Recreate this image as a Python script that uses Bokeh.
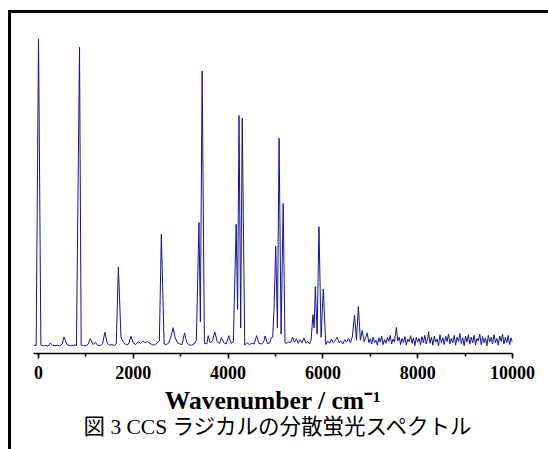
from bokeh.plotting import figure
from bokeh.models import Range1d, SingleIntervalTicker, Title
from bokeh.embed import file_html
from bokeh.resources import INLINE

# ---- data ----
# sharp emission lines: position (cm-1) and relative intensity
peak_cm = [0, 865, 1685, 2591, 3385, 3452, 4170, 4230, 4298, 4970, 5005, 5075,
           5162, 5790, 5840, 5917, 6008, 6667, 6748]
peak_int = [1.0, 0.973, 0.258, 0.365, 0.403, 0.896, 0.397, 0.751, 0.743, 0.125,
            0.326, 0.677, 0.465, 0.103, 0.195, 0.389, 0.187, 0.102, 0.130]

# baseline / weak bands / noise trace between the lines
base_cm = [-100, -50, 50, 100, 150, 200, 250, 300, 350, 400, 450, 500, 537, 600,
           650, 700, 750, 800, 900, 950, 1000, 1050, 1090, 1150, 1200, 1250, 1300,
           1350, 1400, 1450, 1500, 1550, 1600, 1640, 1740, 1800, 1850, 1900, 1950,
           2000, 2050, 2100, 2150, 2200, 2250, 2300, 2350, 2400, 2450, 2500, 2550,
           2650, 2700, 2750, 2800, 2840, 2880, 2930, 2980, 3030, 3080, 3130, 3180,
           3230, 3280, 3330, 3415, 3500, 3550, 3580, 3620, 3670, 3720, 3770, 3820,
           3860, 3910, 3960, 4015, 4060, 4110, 4200, 4265, 4350, 4400, 4450, 4500,
           4550, 4600, 4650, 4700, 4750, 4780, 4830, 4880, 4910, 4940, 5040, 5118,
           5200, 5240, 5270, 5320, 5360, 5400, 5440, 5480, 5520, 5560, 5600, 5640,
           5680, 5720, 5750, 5815, 5878, 5962, 6060, 6100, 6140, 6180, 6220, 6260,
           6300, 6340, 6380, 6420, 6460, 6500, 6540, 6580, 6620, 6708, 6790, 6830,
           6870, 6900, 6935, 6970,
           7000, 7030, 7060, 7090, 7120, 7150, 7180, 7210, 7240, 7270, 7300, 7330,
           7360, 7390, 7420, 7450, 7480, 7510, 7550, 7580, 7610, 7640, 7670, 7700,
           7730, 7760, 7790, 7820, 7850, 7880, 7910, 7940, 7970, 8000, 8030, 8060,
           8090, 8120, 8150, 8180, 8210, 8230, 8260, 8290, 8320, 8350, 8380, 8410,
           8440, 8470, 8500, 8530, 8560, 8590, 8620, 8650, 8680, 8710, 8740, 8770,
           8800, 8830, 8860, 8890, 8920, 8950, 8980, 9010, 9040, 9070, 9100, 9130,
           9160, 9190, 9220, 9250, 9280, 9310, 9340, 9370, 9400, 9430, 9460, 9490,
           9520, 9550, 9580, 9610, 9640, 9670, 9700, 9730, 9760, 9790, 9820, 9850,
           9880, 9910, 9940, 9970, 10000]
base_int = [0.004, 0.003, 0.004, 0.002, 0.003, 0.001, 0.011, 0.003, 0.002, 0.004,
            0.002, 0.008, 0.031, 0.006, 0.003, 0.002, 0.005, 0.003, 0.004, 0.003,
            0.002, 0.008, 0.025, 0.006, 0.013, 0.003, 0.002, 0.008, 0.046, 0.010,
            0.004, 0.006, 0.003, 0.008, 0.029, 0.012, 0.005, 0.008, 0.033, 0.012,
            0.006, 0.015, 0.010, 0.018, 0.012, 0.016, 0.010, 0.006, 0.004, 0.012,
            0.018, 0.008, 0.006, 0.012, 0.035, 0.061, 0.030, 0.012, 0.008, 0.006,
            0.044, 0.012, 0.005, 0.004, 0.008, 0.020, 0.080, 0.010, 0.008, 0.035,
            0.012, 0.018, 0.047, 0.015, 0.010, 0.029, 0.012, 0.008, 0.035, 0.010,
            0.015, 0.120, 0.060, 0.004, 0.012, 0.006, 0.010, 0.008, 0.035, 0.010,
            0.008, 0.014, 0.034, 0.009, 0.012, 0.029, 0.030, 0.060, 0.040, 0.012,
            0.010, 0.015, 0.012, 0.030, 0.014, 0.025, 0.010, 0.022, 0.012, 0.028,
            0.010, 0.016, 0.008, 0.020, 0.060, 0.040, 0.030, 0.006, 0.018, 0.010,
            0.024, 0.012, 0.020, 0.030, 0.012, 0.018, 0.008, 0.022, 0.014, 0.026,
            0.012, 0.030, 0.020, 0.020, 0.052, 0.015, 0.028, 0.044, 0.012,
            0.025, 0.008, 0.030, 0.012, 0.020, 0.004, 0.028, 0.014, 0.034, 0.006,
            0.022, 0.010, 0.030, 0.016, 0.036, 0.008, 0.024, 0.014, 0.062, 0.018,
            0.030, 0.006, 0.026, 0.012, 0.032, 0.004, 0.024, 0.016, 0.035, 0.010,
            0.028, 0.002, 0.030, 0.014, 0.026, 0.006, 0.032, 0.012, 0.036, 0.008,
            0.025, 0.048, 0.010, 0.030, 0.004, 0.034, 0.014, 0.024, 0.002, 0.038,
            0.012, 0.028, 0.006, 0.033, 0.016, 0.040, 0.008, 0.026, 0.012, 0.036,
            0.004, 0.030, 0.016, 0.042, 0.010, 0.028, 0.002, 0.034, 0.014, 0.038,
            0.008, 0.030, 0.012, 0.036, 0.004, 0.026, 0.018, 0.040, 0.006, 0.032,
            0.012, 0.028, 0.002, 0.036, 0.014, 0.030, 0.008, 0.038, 0.012, 0.026,
            0.004, 0.034, 0.016, 0.040, 0.008, 0.030, 0.012, 0.036, 0.006, 0.028,
            0.014]

x_axis_label = "Wavenumber / cm\u207b\u00b9"
caption = "図 3 CCS ラジカルの分散蛍光スペクトル"

# ---- merge lines and baseline into one trace ----
pts = [(c, v) for c, v in zip(base_cm, base_int)
       if all(abs(c - pc) >= 20 for pc in peak_cm)]
pts += list(zip(peak_cm, peak_int))
pts.sort()
xs = [q[0] for q in pts]
ys = [q[1] for q in pts]

# ---- figure ----
XMIN, XMAX = -106, 10000
YMIN, YMAX = -0.023, 1.060
BL, BR, BT, BB = 22, 39, 7, 99
W, H = 537, 436

p = figure(width=W, height=H, x_range=Range1d(XMIN, XMAX), y_range=Range1d(YMIN, YMAX),
           output_backend="svg", toolbar_location=None, y_axis_location=None,
           min_border_left=BL, min_border_right=BR, min_border_top=BT,
           min_border_bottom=BB)
p.styles = {"box-sizing": "content-box",
            "border-top": "3px solid black", "border-left": "3px solid black",
            "margin-top": "10px", "margin-left": "8px"}
p.outline_line_color = None
p.xgrid.visible = False
p.ygrid.visible = False
p.background_fill_color = "white"
p.border_fill_color = "white"

p.line(xs, ys, line_color="#12129c", line_width=1)

ax = p.xaxis[0]
ax.ticker = SingleIntervalTicker(interval=2000, num_minor_ticks=2)
ax.axis_line_color = "black"
ax.axis_line_width = 1.5
ax.major_tick_line_width = 1.5
ax.minor_tick_line_width = 1.5
ax.major_tick_in = 0
ax.major_tick_out = 5
ax.minor_tick_in = 0
ax.minor_tick_out = 3
ax.major_label_text_font = "Liberation Serif"
ax.major_label_text_font_size = "18px"
ax.major_label_text_font_style = "bold"
ax.major_label_text_color = "black"
ax.major_label_standoff = 7
ax.axis_label = x_axis_label
ax.axis_label_text_font = "Liberation Serif"
ax.axis_label_text_font_size = "25.5px"
ax.axis_label_text_font_style = "bold"
ax.axis_label_text_color = "black"
ax.axis_label_standoff = 4

p.add_layout(Title(text=caption, align="left", offset=50, standoff=-9,
                   text_font="Liberation Serif, Noto Sans CJK JP",
                   text_font_size="21.5px", text_font_style="normal",
                   text_color="black"), "below")

open("out.html", "w").write(file_html(p, INLINE))
